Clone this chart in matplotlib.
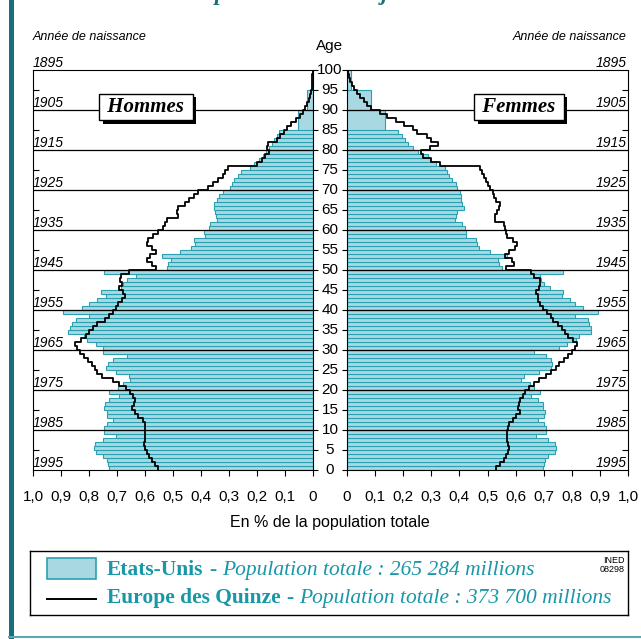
import numpy as np
import matplotlib
matplotlib.use("Agg")
import matplotlib.pyplot as plt
import matplotlib.transforms as mtransforms
from matplotlib import patheffects
from matplotlib.patches import Rectangle
from matplotlib.lines import Line2D

# --- data (share of total population, in %) ---
ages = np.arange(100)          # Europe: single years 0-99
us_ages = np.arange(85)        # Etats-Unis: single years 0-84
us_old_ages = [85, 90, 95]     # Etats-Unis: 5-year groups 85-89, 90-94, 95-99

us_hommes = [
    0.727, 0.731, 0.734, 0.751, 0.775, 0.782, 0.779, 0.749, 0.704, 0.746,
    0.746, 0.734, 0.713, 0.734, 0.737, 0.746, 0.743, 0.727, 0.692, 0.727,
    0.695, 0.680, 0.654, 0.656, 0.704, 0.739, 0.731, 0.715, 0.665, 0.749,
    0.749, 0.775, 0.808, 0.818, 0.874, 0.868, 0.860, 0.846, 0.799, 0.892,
    0.826, 0.799, 0.773, 0.739, 0.758, 0.687, 0.677, 0.663, 0.632, 0.746,
    0.520, 0.517, 0.507, 0.538, 0.475, 0.437, 0.423, 0.425, 0.386, 0.389,
    0.370, 0.368, 0.344, 0.348, 0.350, 0.354, 0.352, 0.344, 0.335, 0.323,
    0.298, 0.290, 0.282, 0.267, 0.257, 0.224, 0.210, 0.194, 0.180, 0.169,
    0.158, 0.148, 0.138, 0.130, 0.120,
]
us_hommes_old = [0.052, 0.021, 0.005]

us_femmes = [
    0.696, 0.700, 0.705, 0.717, 0.740, 0.744, 0.740, 0.717, 0.673, 0.708,
    0.708, 0.700, 0.681, 0.702, 0.705, 0.696, 0.696, 0.681, 0.655, 0.688,
    0.664, 0.652, 0.619, 0.631, 0.685, 0.726, 0.729, 0.726, 0.708, 0.664,
    0.756, 0.783, 0.815, 0.827, 0.869, 0.868, 0.860, 0.857, 0.810, 0.893,
    0.839, 0.810, 0.792, 0.764, 0.768, 0.724, 0.700, 0.690, 0.688, 0.768,
    0.550, 0.542, 0.538, 0.569, 0.510, 0.470, 0.464, 0.458, 0.423, 0.423,
    0.419, 0.411, 0.383, 0.387, 0.393, 0.417, 0.411, 0.407, 0.405, 0.402,
    0.390, 0.387, 0.373, 0.363, 0.357, 0.349, 0.315, 0.295, 0.288, 0.252,
    0.236, 0.218, 0.208, 0.194, 0.181,
]
us_femmes_old = [0.135, 0.086, 0.015]

eu_hommes = [
    0.552, 0.564, 0.576, 0.585, 0.594, 0.600, 0.604, 0.600, 0.600, 0.600,
    0.600, 0.600, 0.608, 0.624, 0.636, 0.648, 0.639, 0.636, 0.642, 0.654,
    0.668, 0.692, 0.713, 0.755, 0.773, 0.779, 0.790, 0.802, 0.818, 0.832,
    0.844, 0.850, 0.830, 0.812, 0.800, 0.787, 0.770, 0.743, 0.727, 0.713,
    0.704, 0.695, 0.683, 0.671, 0.677, 0.692, 0.683, 0.689, 0.687, 0.657,
    0.561, 0.576, 0.594, 0.582, 0.561, 0.574, 0.592, 0.588, 0.570, 0.552,
    0.535, 0.529, 0.520, 0.481, 0.487, 0.481, 0.457, 0.442, 0.425, 0.410,
    0.374, 0.358, 0.338, 0.323, 0.314, 0.302, 0.201, 0.183, 0.171, 0.156,
    0.163, 0.160, 0.130, 0.118, 0.105, 0.092, 0.078, 0.062, 0.048, 0.035,
    0.028, 0.022, 0.015, 0.010, 0.007, 0.005, 0.004, 0.003, 0.002, 0.001,
]

eu_femmes = [
    0.530, 0.545, 0.557, 0.565, 0.574, 0.577, 0.574, 0.571, 0.571, 0.571,
    0.574, 0.577, 0.589, 0.601, 0.617, 0.610, 0.613, 0.617, 0.625, 0.633,
    0.649, 0.664, 0.685, 0.708, 0.726, 0.744, 0.756, 0.771, 0.786, 0.800,
    0.810, 0.819, 0.804, 0.786, 0.776, 0.764, 0.752, 0.733, 0.726, 0.712,
    0.696, 0.688, 0.679, 0.679, 0.673, 0.685, 0.688, 0.688, 0.664, 0.655,
    0.565, 0.593, 0.586, 0.562, 0.577, 0.598, 0.605, 0.589, 0.571, 0.565,
    0.562, 0.557, 0.526, 0.526, 0.533, 0.542, 0.545, 0.530, 0.524, 0.518,
    0.510, 0.502, 0.494, 0.488, 0.479, 0.474, 0.331, 0.300, 0.271, 0.264,
    0.295, 0.324, 0.300, 0.283, 0.248, 0.236, 0.202, 0.173, 0.143, 0.119,
    0.086, 0.071, 0.060, 0.048, 0.036, 0.025, 0.018, 0.012, 0.008, 0.003,
]

x_ticks = np.round(np.arange(0, 1.01, 0.1), 1)
age_ticks = np.arange(0, 101, 5)
decades = np.arange(10, 100, 10)
birth_ages = np.arange(0, 101, 10)

plt.rcParams['font.family'] = ['Liberation Sans', 'DejaVu Sans']

TEAL = '#1897a7'
DARK_TEAL = '#17707c'
BAR_FILL = '#a8d9e3'
BAR_EDGE = '#2ba0b1'

W, H = 641, 639
fig = plt.figure(figsize=(W / 100, H / 100), dpi=100)


def px_axes(x0, y0, x1, y1):
    # axes placed with pixel coordinates measured from the top left corner
    return fig.add_axes([x0 / W, 1 - y1 / H, (x1 - x0) / W, (y1 - y0) / H])


def step_xy(values):
    # one vertical segment per single year of age
    xs = np.repeat(values, 2)
    ys = np.column_stack([ages, ages + 1]).ravel()
    return xs, ys


def tick_text(v):
    return '0' if v == 0 else f"{v:.1f}".replace('.', ',')


ax_h = px_axes(33, 70, 313, 470)
ax_f = px_axes(347, 70, 628, 470)

panels = [
    (ax_h, us_hommes, us_hommes_old, eu_hommes, 'right'),
    (ax_f, us_femmes, us_femmes_old, eu_femmes, 'left'),
]

for ax, us, us_old, eu, inner in panels:
    ax.barh(us_ages, us, height=1, align='edge', color=BAR_FILL,
            edgecolor=BAR_EDGE, linewidth=0.8, zorder=2)
    ax.barh(us_old_ages, us_old, height=5, align='edge', color=BAR_FILL,
            edgecolor=BAR_EDGE, linewidth=0.8, zorder=2)
    for a in decades:
        ax.axhline(a, color='black', lw=0.9, zorder=3)
    xs, ys = step_xy(eu)
    ax.plot(xs, ys, color='black', lw=1.3, zorder=4)

    ax.set_ylim(0, 100)
    ax.set_xlim(0, 1)
    for sp in ax.spines.values():
        sp.set_linewidth(0.8)

    ax.set_xticks(x_ticks)
    ax.set_xticklabels([tick_text(v) for v in x_ticks])
    ax.tick_params(axis='x', direction='out', length=4.3, width=0.8,
                   pad=10, labelsize=11)

    # inner age ticks (every 5 years) and outer ticks (95, 85, ...)
    ax.yaxis.remove_overlapping_locs = False
    ax.set_yticks(age_ticks)
    ax.set_yticks(np.arange(5, 100, 10), minor=True)
    outer = 'left' if inner == 'right' else 'right'
    ax.tick_params(axis='y', which='major', direction='out', length=3.6,
                   width=0.8, left=(inner == 'left'), right=(inner == 'right'),
                   labelleft=False, labelright=False)
    ax.tick_params(axis='y', which='minor', direction='in', length=4.3,
                   width=0.8, left=(outer == 'left'), right=(outer == 'right'))

ax_h.invert_xaxis()

# age labels between the two panels
trans_h = mtransforms.blended_transform_factory(ax_h.transAxes, ax_h.transData)
for a in age_ticks:
    ax_h.text((330 - 33) / 280, a, str(a), transform=trans_h,
              ha='center', va='center', fontsize=11)

# years of birth above the decade lines
trans_f = mtransforms.blended_transform_factory(ax_f.transAxes, ax_f.transData)
for a in birth_ages:
    year = str(1995 - a)
    ax_h.text(0.0, a, year, transform=trans_h, ha='left', va='bottom',
              fontsize=10, style='italic')
    ax_f.text(0.995, a, year, transform=trans_f, ha='right', va='bottom',
              fontsize=10, style='italic')

fig.text(33 / W, 1 - 37 / H, 'Année de naissance', ha='left', va='center',
         fontsize=9, style='italic')
fig.text(627 / W, 1 - 37 / H, 'Année de naissance', ha='right', va='center',
         fontsize=9, style='italic')
fig.text(330 / W, 1 - 46 / H, 'Age', ha='center', va='center', fontsize=11)
fig.text(330 / W, 1 - 523 / H, 'En % de la population totale',
         ha='center', va='center', fontsize=11.5)

# "Hommes" / "Femmes" boxes with a drop shadow
for cx, label in [(146, ' Hommes '), (519, ' Femmes ')]:
    t = fig.text(cx / W, 1 - 107 / H, label, ha='center', va='center',
                 family='Liberation Serif', weight='bold', style='italic',
                 fontsize=15,
                 bbox=dict(boxstyle='square,pad=0.15', fc='white',
                           ec='black', lw=1))
    t.get_bbox_patch().set_path_effects(
        [patheffects.withSimplePatchShadow(offset=(2.5, -2.5),
                                           shadow_rgbFace='black', alpha=1.0)])

# title, cut off by the top edge (only descenders show, as in the source)
fig.text(166 / W, 1.0, 'Europe et USA au 1er janvier 1996', ha='left',
         va='baseline', family='Liberation Serif', weight='bold',
         style='italic', fontsize=16.7, color=DARK_TEAL)

# legend box
ax_leg = px_axes(30, 551, 628, 615)
ax_leg.set_xlim(0, 1)
ax_leg.set_ylim(0, 1)
ax_leg.set_xticks([])
ax_leg.set_yticks([])
for sp in ax_leg.spines.values():
    sp.set_linewidth(1.0)
ax_leg.add_patch(Rectangle((0.0284, 0.5625), 0.0819, 0.328, fc=BAR_FILL,
                           ec=BAR_EDGE, lw=1.2, transform=ax_leg.transAxes))
ax_leg.add_line(Line2D([0.0284, 0.1103], [0.25, 0.25], color='black', lw=1.4,
                       transform=ax_leg.transAxes))

serif = dict(family='Liberation Serif', fontsize=15.5, color=TEAL)
legend_rows = [
    (0.625, 'Etats-Unis', 'Population totale : 265 284 millions'),
    (0.1875, 'Europe des Quinze', 'Population totale : 373 700 millions'),
]
for yb, name, total in legend_rows:
    t1 = ax_leg.text(0.1288, yb, name, transform=ax_leg.transAxes,
                     va='baseline', ha='left', weight='bold', **serif)
    t2 = ax_leg.annotate('-', xy=(1, 0), xycoords=t1, xytext=(4, 0),
                         textcoords='offset points', va='bottom', ha='left',
                         **serif)
    ax_leg.annotate(total, xy=(1, 0), xycoords=t2, xytext=(4, 0),
                    textcoords='offset points', va='bottom', ha='left',
                    style='italic', **serif)

ax_leg.text(0.995, 0.92, 'INED\n08298', transform=ax_leg.transAxes,
            ha='right', va='top', fontsize=6.5, linespacing=1.0)

# frame decoration: teal bar on the left and rule at the bottom
fig.add_artist(Rectangle((9 / W, 0), 5 / W, 1, transform=fig.transFigure,
                         color=DARK_TEAL, lw=0))
fig.add_artist(Line2D([9 / W, 1], [1 - 637 / H, 1 - 637 / H],
                      transform=fig.transFigure, color='#5aa8b2', lw=1.5))

fig.savefig('out.png', dpi=100)
